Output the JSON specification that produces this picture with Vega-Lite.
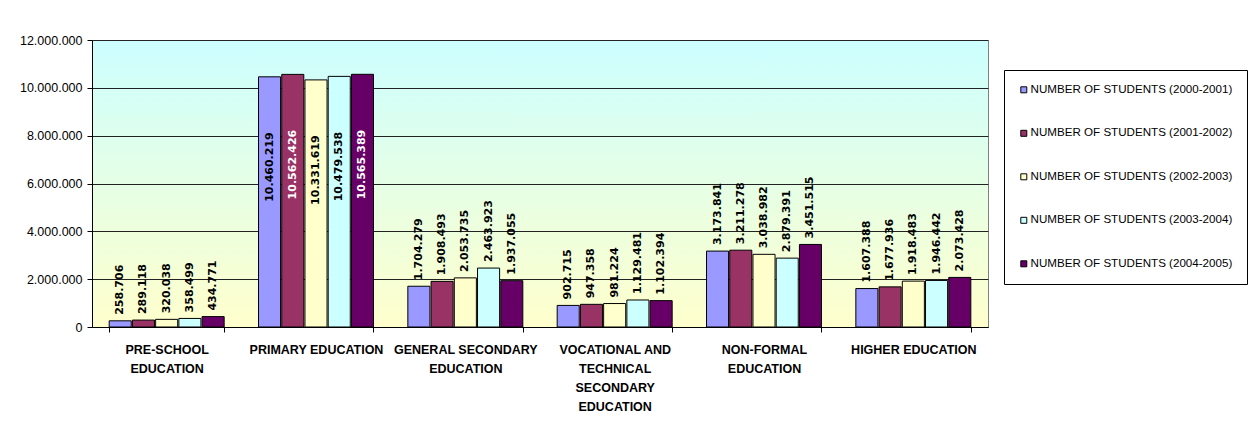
{
  "$schema": "https://vega.github.io/schema/vega-lite/v6.json",
  "width": 896,
  "height": 287,
  "autosize": {"type": "none"},
  "padding": {"left": 92, "top": 40, "right": 266, "bottom": 108},
  "background": "#ffffff",
  "config": {
    "locale": {
      "number": {"decimal": ",", "thousands": ".", "grouping": [3], "currency": ["", ""]}
    },
    "font": "Liberation Sans"
  },
  "view": {
    "stroke": "#808080",
    "strokeWidth": 1,
    "fill": {
      "gradient": "linear",
      "x1": 0, "y1": 0, "x2": 0, "y2": 1,
      "stops": [
        {"offset": 0, "color": "#CCFFFF"},
        {"offset": 1, "color": "#FFFFCC"}
      ]
    }
  },
  "datasets": {
    "students": [
      {"level": "PRE-SCHOOL EDUCATION", "year": "NUMBER OF STUDENTS (2000-2001)", "students": 258706},
      {"level": "PRE-SCHOOL EDUCATION", "year": "NUMBER OF STUDENTS (2001-2002)", "students": 289118},
      {"level": "PRE-SCHOOL EDUCATION", "year": "NUMBER OF STUDENTS (2002-2003)", "students": 320038},
      {"level": "PRE-SCHOOL EDUCATION", "year": "NUMBER OF STUDENTS (2003-2004)", "students": 358499},
      {"level": "PRE-SCHOOL EDUCATION", "year": "NUMBER OF STUDENTS (2004-2005)", "students": 434771},
      {"level": "PRIMARY EDUCATION", "year": "NUMBER OF STUDENTS (2000-2001)", "students": 10460219},
      {"level": "PRIMARY EDUCATION", "year": "NUMBER OF STUDENTS (2001-2002)", "students": 10562426},
      {"level": "PRIMARY EDUCATION", "year": "NUMBER OF STUDENTS (2002-2003)", "students": 10331619},
      {"level": "PRIMARY EDUCATION", "year": "NUMBER OF STUDENTS (2003-2004)", "students": 10479538},
      {"level": "PRIMARY EDUCATION", "year": "NUMBER OF STUDENTS (2004-2005)", "students": 10565389},
      {"level": "GENERAL SECONDARY EDUCATION", "year": "NUMBER OF STUDENTS (2000-2001)", "students": 1704279},
      {"level": "GENERAL SECONDARY EDUCATION", "year": "NUMBER OF STUDENTS (2001-2002)", "students": 1908493},
      {"level": "GENERAL SECONDARY EDUCATION", "year": "NUMBER OF STUDENTS (2002-2003)", "students": 2053735},
      {"level": "GENERAL SECONDARY EDUCATION", "year": "NUMBER OF STUDENTS (2003-2004)", "students": 2463923},
      {"level": "GENERAL SECONDARY EDUCATION", "year": "NUMBER OF STUDENTS (2004-2005)", "students": 1937055},
      {"level": "VOCATIONAL AND TECHNICAL SECONDARY EDUCATION", "year": "NUMBER OF STUDENTS (2000-2001)", "students": 902715},
      {"level": "VOCATIONAL AND TECHNICAL SECONDARY EDUCATION", "year": "NUMBER OF STUDENTS (2001-2002)", "students": 947358},
      {"level": "VOCATIONAL AND TECHNICAL SECONDARY EDUCATION", "year": "NUMBER OF STUDENTS (2002-2003)", "students": 981224},
      {"level": "VOCATIONAL AND TECHNICAL SECONDARY EDUCATION", "year": "NUMBER OF STUDENTS (2003-2004)", "students": 1129481},
      {"level": "VOCATIONAL AND TECHNICAL SECONDARY EDUCATION", "year": "NUMBER OF STUDENTS (2004-2005)", "students": 1102394},
      {"level": "NON-FORMAL EDUCATION", "year": "NUMBER OF STUDENTS (2000-2001)", "students": 3173841},
      {"level": "NON-FORMAL EDUCATION", "year": "NUMBER OF STUDENTS (2001-2002)", "students": 3211278},
      {"level": "NON-FORMAL EDUCATION", "year": "NUMBER OF STUDENTS (2002-2003)", "students": 3038982},
      {"level": "NON-FORMAL EDUCATION", "year": "NUMBER OF STUDENTS (2003-2004)", "students": 2879391},
      {"level": "NON-FORMAL EDUCATION", "year": "NUMBER OF STUDENTS (2004-2005)", "students": 3451515},
      {"level": "HIGHER EDUCATION", "year": "NUMBER OF STUDENTS (2000-2001)", "students": 1607388},
      {"level": "HIGHER EDUCATION", "year": "NUMBER OF STUDENTS (2001-2002)", "students": 1677936},
      {"level": "HIGHER EDUCATION", "year": "NUMBER OF STUDENTS (2002-2003)", "students": 1918483},
      {"level": "HIGHER EDUCATION", "year": "NUMBER OF STUDENTS (2003-2004)", "students": 1946442},
      {"level": "HIGHER EDUCATION", "year": "NUMBER OF STUDENTS (2004-2005)", "students": 2073428}
    ]
  },
  "data": {"name": "students"},
  "layer": [
    {
      "mark": {"type": "bar", "stroke": "#000000", "strokeWidth": 1},
      "encoding": {
        "x": {
          "field": "level",
          "type": "nominal",
          "sort": null,
          "scale": {"paddingInner": 0.23, "paddingOuter": 0.115},
          "axis": {
            "title": null,
            "tickBand": "extent",
            "domainColor": "#000000",
            "tickColor": "#000000",
            "tickSize": 5,
            "labelAngle": 0,
            "labelFont": "Liberation Sans",
            "labelFontSize": 12.5,
            "labelFontWeight": "bold",
            "labelColor": "#000000",
            "labelPadding": 11,
            "labelLineHeight": 19,
            "labelBaseline": "top",
            "labelOverlap": false,
            "labelLimit": 400,
            "labelExpr": "datum.value == 'PRE-SCHOOL EDUCATION' ? ['PRE-SCHOOL', 'EDUCATION'] : datum.value == 'GENERAL SECONDARY EDUCATION' ? ['GENERAL SECONDARY', 'EDUCATION'] : datum.value == 'VOCATIONAL AND TECHNICAL SECONDARY EDUCATION' ? ['VOCATIONAL AND', 'TECHNICAL', 'SECONDARY', 'EDUCATION'] : datum.value == 'NON-FORMAL EDUCATION' ? ['NON-FORMAL', 'EDUCATION'] : datum.value"
          }
        },
        "xOffset": {"field": "year", "type": "nominal", "scale": {"paddingInner": 0.05}},
        "y": {
          "field": "students",
          "type": "quantitative",
          "scale": {"domain": [0, 12000000], "nice": false},
          "axis": {
            "title": null,
            "values": [0, 2000000, 4000000, 6000000, 8000000, 10000000, 12000000],
            "format": ",d",
            "labelFont": "Liberation Sans",
            "labelFontSize": 12.5,
            "labelColor": "#000000",
            "labelPadding": 5,
            "tickColor": "#000000",
            "tickSize": 5,
            "domainColor": "#000000",
            "grid": true,
            "gridColor": "#222222",
            "gridWidth": 1
          }
        },
        "color": {
          "field": "year",
          "type": "nominal",
          "scale": {
            "domain": [
              "NUMBER OF STUDENTS (2000-2001)",
              "NUMBER OF STUDENTS (2001-2002)",
              "NUMBER OF STUDENTS (2002-2003)",
              "NUMBER OF STUDENTS (2003-2004)",
              "NUMBER OF STUDENTS (2004-2005)"
            ],
            "range": ["#9999FF", "#993366", "#FFFFCC", "#CCFFFF", "#660066"]
          },
          "legend": {
            "title": null,
            "orient": "none",
            "legendX": 912,
            "legendY": 30,
            "direction": "vertical",
            "strokeColor": "#000000",
            "fillColor": "#ffffff",
            "padding": 14,
            "rowPadding": 30.5,
            "symbolType": "square",
            "symbolSize": 36,
            "symbolStrokeColor": "#000000",
            "symbolStrokeWidth": 1,
            "labelFont": "Liberation Sans",
            "labelFontSize": 11.6,
            "labelColor": "#000000",
            "labelLimit": 400,
            "labelOffset": 1
          }
        }
      }
    },
    {
      "transform": [{"filter": "datum.level != 'PRIMARY EDUCATION'"}],
      "mark": {
        "type": "text",
        "angle": -90,
        "align": "left",
        "baseline": "middle",
        "dx": 6,
        "font": "DejaVu Sans",
        "fontWeight": "bold",
        "fontSize": 11,
        "color": "#000000"
      },
      "encoding": {
        "x": {"field": "level", "type": "nominal", "sort": null, "title": null},
        "xOffset": {"field": "year", "type": "nominal"},
        "y": {"field": "students", "type": "quantitative", "title": null},
        "text": {"field": "students", "type": "quantitative", "format": ",d"}
      }
    },
    {
      "transform": [{"filter": "datum.level == 'PRIMARY EDUCATION'"}],
      "mark": {
        "type": "text",
        "angle": -90,
        "align": "left",
        "baseline": "middle",
        "dx": -125,
        "font": "DejaVu Sans",
        "fontWeight": "bold",
        "fontSize": 11
      },
      "encoding": {
        "x": {"field": "level", "type": "nominal", "sort": null, "title": null},
        "xOffset": {"field": "year", "type": "nominal"},
        "y": {"field": "students", "type": "quantitative", "title": null},
        "text": {"field": "students", "type": "quantitative", "format": ",d"},
        "color": {
          "condition": {
            "test": "datum.year == 'NUMBER OF STUDENTS (2001-2002)' || datum.year == 'NUMBER OF STUDENTS (2004-2005)'",
            "value": "#ffffff"
          },
          "value": "#000000"
        }
      }
    }
  ]
}
